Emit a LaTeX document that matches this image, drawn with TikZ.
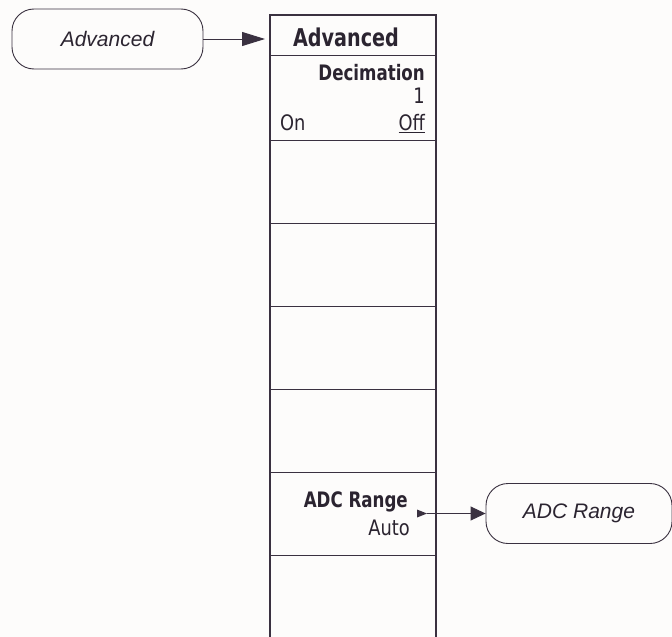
\documentclass[tikz,border=0pt]{standalone}
\usepackage{fontspec}
\setmainfont{Liberation Sans}
\newfontfamily\menubf[FakeStretch=0.87]{DejaVu Sans Condensed Bold}
\newfontfamily\menurm[FakeStretch=0.93]{DejaVu Sans Condensed}
\usetikzlibrary{arrows.meta}
\definecolor{ink}{HTML}{3A3140}
\definecolor{txt}{HTML}{2B2430}
\definecolor{paper}{HTML}{FDFCFB}
\tikzset{
  keyline/.style={draw=ink, line width=1.2pt},
  cellline/.style={draw=ink, line width=1pt},
  flowbox/.style={draw=ink, line width=0.9pt, rounded corners=22pt, minimum width=#1, minimum height=60pt, inner sep=0pt, font=\fontsize{21}{25}\selectfont\itshape, text=txt},
  menutxt/.style={font=\menurm\fontsize{21.3}{25}\selectfont, text=txt, inner sep=0pt},
  menubold/.style={font=\menubf\fontsize{21.3}{25}\selectfont, text=txt, inner sep=0pt},
  menuhead/.style={font=\menubf\fontsize{24.5}{28}\selectfont, text=txt, inner sep=0pt},
  conn/.style={draw=ink, line width=0.9pt},
}
\begin{document}
\begin{tikzpicture}[x=1pt,y=-1pt]
\fill[paper] (0,0) rectangle (672,637);
\useasboundingbox (0,0) rectangle (672,637);
% softkey column
\draw[keyline] (270,637) -- (270,15) -- (436,15) -- (436,637);
\foreach \yy in {55,140,223,306,389,472,555}
  \draw[cellline] (270,\yy) -- (436,\yy);
% header
\node[menuhead, anchor=base] (hdr) at (346,46) {Advanced};
\coordinate (hdrW) at (270,39);
% decimation key
\node[menubold, anchor=base east] (dec) at (425,80) {Decimation};
\node[menutxt, anchor=base east] (decv) at (425,103) {1};
\node[menutxt, anchor=base west] (on) at (280,130) {On};
\node[menutxt, anchor=base east] (off) at (425,130) {\underline{Off}};
% ADC range key
\node[menubold, anchor=base east] (adc) at (408,507) {ADC Range};
\node[menutxt, anchor=base east] (auto) at (410,535) {Auto};
\fill[ink] (417,509.5) -- (427,513.5) -- (417,517.5) -- cycle;
\coordinate (adcOut) at (427,513.5);
% flow boxes
\node[flowbox=191pt] (advbox) at (107.5,39) {Advanced};
\node[flowbox=186pt] (adcbox) at (579,513.5) {ADC Range};
% connectors
\draw[conn, -{Triangle[length=23pt,width=14pt]}, shorten >=5pt] (advbox.east) -- (hdrW);
\draw[conn, -{Triangle[length=15pt,width=14pt]}] (adcOut) -- (adcbox.west);
\end{tikzpicture}
\end{document}
